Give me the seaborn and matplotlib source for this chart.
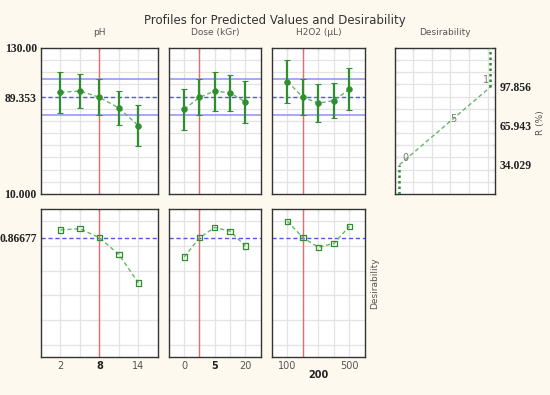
import numpy as np
import pandas as pd
import matplotlib.pyplot as plt
import seaborn as sns

# Data
ph_levels = [2, 5, 8, 11, 14]
dose_levels = [0, 5, 10, 15, 20]
h2o2_levels = [100, 200, 300, 400, 500]

ph_r = [93.5, 94.5, 89.353, 80.5, 66.0]
ph_err = [17.0, 14.0, 14.8, 14.0, 17.0]
ph_d = [0.93, 0.94, 0.86677, 0.73, 0.50]

dose_r = [79.5, 89.353, 94.5, 93.0, 85.5]
dose_err = [17.0, 14.8, 16.0, 15.0, 17.0]
dose_d = [0.71, 0.86677, 0.95, 0.92, 0.80]

h2o2_r = [102.3, 89.353, 84.6, 86.7, 96.0]
h2o2_err = [17.8, 14.8, 15.8, 14.7, 17.3]
h2o2_d = [1.0, 0.86677, 0.79, 0.82, 0.96]

current = {"pH": 8, "Dose (kGr)": 5, "H2O2 (µL)": 200}
pred = 89.353
pred_ci = [74.55, 104.15]
pred_d = 0.86677
desir_r = [34.029, 65.943, 97.856]
desir_x = [0, 0.5, 1]

factors = [
    ("pH", ph_levels, ph_r, ph_err, ph_d, (-1, 17), ["2", "", "8", "", "14"]),
    ("Dose (kGr)", dose_levels, dose_r, dose_err, dose_d, (-5, 25), ["0", "", "5", "", "20"]),
    ("H2O2 (µL)", h2o2_levels, h2o2_r, h2o2_err, h2o2_d, (0, 600), ["100", "", "200", "", "500"]),
]

sns.set_style("white")
plt.rcParams['font.family'] = ['DejaVu Sans']

bg = "#fdf9ee"
green = "#2f8f2f"
lgreen = "#66b866"
gray_txt = "#555555"
grid_c = "#e3e3e3"
serif = dict(family="Liberation Serif", weight="bold", size=8.4, color="#222222")

fig = plt.figure(figsize=(5.5, 3.95), dpi=100, facecolor=bg)

cols = [(0.0745, 0.2127), (0.307, 0.167), (0.4945, 0.169)]
top_box = (0.509, 0.370)
bot_box = (0.096, 0.375)


def style_ax(ax):
    ax.set_facecolor("white")
    for s in ax.spines.values():
        s.set_color("#333333")
        s.set_linewidth(1.0)
    ax.tick_params(which="both", direction="in", length=2, width=0.8, color="#333333",
                   top=True, right=False, labelsize=7, labelcolor=gray_txt, pad=3)


def add_grid(ax, xs, ys):
    for xv in xs:
        ax.axvline(xv, color=grid_c, lw=0.9, zorder=1)
    for yv in ys:
        ax.axhline(yv, color=grid_c, lw=0.9, zorder=1)


for i, (name, lv, r, err, d, xl, xlabels) in enumerate(factors):
    left, width = cols[i]
    # top row: predicted values
    ax = fig.add_axes([left, top_box[0], width, top_box[1]])
    style_ax(ax)
    df = pd.DataFrame({"x": lv, "y": r})
    sns.lineplot(data=df, x="x", y="y", ax=ax, color=lgreen, ls=(0, (3, 2)), lw=1.0, zorder=3)
    ax.errorbar(lv, r, yerr=err, fmt="none", ecolor=green, elinewidth=1.6,
                capsize=2.5, capthick=0.8, zorder=4)
    sns.scatterplot(data=df, x="x", y="y", ax=ax, color=green, s=18, edgecolor=green, zorder=5)
    add_grid(ax, lv, np.arange(20, 130, 10))
    ax.axhline(pred, color="#5555e8", ls=(0, (3, 2)), lw=1.0, zorder=2)
    for c in pred_ci:
        ax.axhline(c, color="#8f8ff5", lw=1.1, zorder=2)
    ax.axvline(current[name], color="#e07070", lw=1.0, zorder=2)
    ax.set_xlim(*xl)
    ax.set_ylim(10, 130)
    ax.set_xticks(lv)
    ax.set_xticklabels([])
    ax.set_yticks(np.arange(10, 131, 10), minor=True)
    if i == 0:
        ax.set_yticks([10, pred, 130])
        ax.set_yticklabels(["10.000", "89.353", "130.00"], **serif)
        ax.tick_params(axis="y", which="major", length=0, pad=3)
    else:
        ax.set_yticks([])
    ax.set_xlabel("")
    ax.set_ylabel("")
    ax.set_title(name, fontsize=6.5, color=gray_txt, pad=9)

    # bottom row: desirability
    ax2 = fig.add_axes([left, bot_box[0], width, bot_box[1]])
    style_ax(ax2)
    df2 = pd.DataFrame({"x": lv, "y": d})
    sns.lineplot(data=df2, x="x", y="y", ax=ax2, color=lgreen, ls=(0, (3, 2)), lw=1.0, zorder=3)
    sns.scatterplot(data=df2, x="x", y="y", ax=ax2, marker="s", s=14,
                    facecolor="none", edgecolor=green, linewidth=0.9, zorder=5)
    add_grid(ax2, lv, np.arange(0, 1.01, 0.2))
    ax2.axhline(pred_d, color="#5555e8", ls=(0, (3, 2)), lw=1.0, zorder=2)
    ax2.axvline(current[name], color="#e07070", lw=1.0, zorder=2)
    ax2.set_xlim(*xl)
    ax2.set_ylim(-0.1, 1.1)
    ax2.set_xticks(lv)
    ax2.set_xticklabels(xlabels)
    for lbl in ax2.get_xticklabels():
        if lbl.get_text() == str(current[name]):
            lbl.set_fontweight("bold")
            lbl.set_color("#222222")
            if name.startswith("H2O2"):
                lbl.set_y(-0.06)
    ax2.set_yticks(np.arange(0, 1.01, 0.2), minor=True)
    if i == 0:
        ax2.set_yticks([pred_d])
        ax2.set_yticklabels(["0.86677"], **serif)
        ax2.tick_params(axis="y", which="major", length=0, pad=3)
    else:
        ax2.set_yticks([])
    ax2.set_xlabel("")
    ax2.set_ylabel("")

# desirability function panel
axd = fig.add_axes([0.718, top_box[0], 0.182, top_box[1]])
style_ax(axd)
dticks = [0.15, 0.355, 0.56, 0.765, 0.97]
dfd = pd.DataFrame({"x": desir_x, "y": desir_r})
sns.lineplot(data=dfd, x="x", y="y", ax=axd, color=lgreen, ls=(0, (3, 2)), lw=1.0, zorder=3)
add_grid(axd, dticks, np.arange(20, 130, 10))
axd.plot([0, 0], [10, desir_r[0]], color=green, ls=(0, (1, 1.2)), lw=1.8, zorder=3)
axd.plot([1, 1], [desir_r[-1], 130], color=green, ls=(0, (1, 1.2)), lw=1.8, zorder=3)
for xv, yv, t in zip(desir_x, desir_r, ["0", ".5", "1"]):
    axd.text(xv + (0.03 if xv < 1 else -0.02), yv + 1.5, t, fontsize=7, color="#777777",
             ha="right" if xv == 1 else "left", va="bottom")
axd.set_xlim(-0.05, 1.05)
axd.set_ylim(10, 130)
axd.set_xticks(dticks)
axd.set_xticklabels([])
axd.set_yticks(np.arange(10, 131, 10), minor=True)
axd.set_yticks(desir_r)
axd.yaxis.tick_right()
axd.set_yticklabels(["34.029", "65.943", "97.856"], **serif)
axd.tick_params(axis="y", which="major", length=0, pad=3)
axd.tick_params(axis="y", which="minor", left=True, right=True)
axd.set_xlabel("")
axd.set_ylabel("")
axd.set_title("Desirability", fontsize=6.5, color=gray_txt, pad=9)

fig.text(0.982, 0.69, "R (%)", rotation=90, fontsize=6.5, color=gray_txt, ha="center", va="center")
fig.text(0.682, 0.283, "Desirability", rotation=90, fontsize=6.5, color=gray_txt,
         ha="center", va="center")
fig.suptitle("Profiles for Predicted Values and Desirability", x=0.5, y=0.965,
             fontsize=8.5, color="#333333")

fig.savefig("out.png", dpi=100, facecolor=bg)
